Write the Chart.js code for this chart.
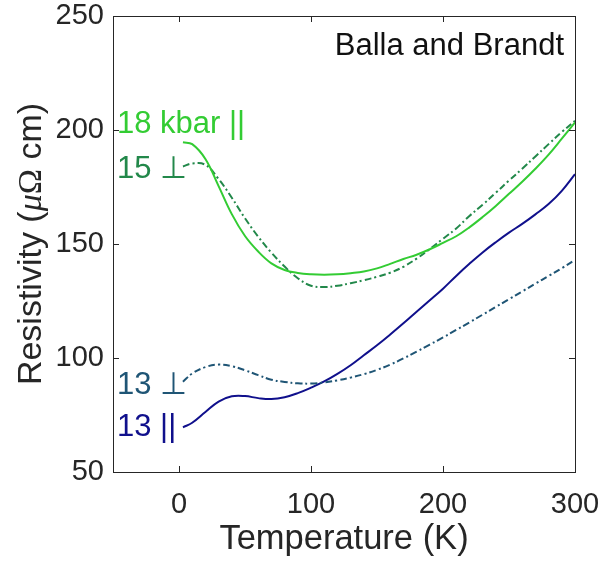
<!DOCTYPE html>
<html>
<head>
<meta charset="utf-8">
<script src="https://cdn.jsdelivr.net/npm/chart.js@4.4.1/dist/chart.umd.min.js"></script>
<style>
  html, body { margin: 0; padding: 0; background: #fff; }
  #wrap { width: 603px; height: 563px; }
</style>
</head>
<body>
<div id="wrap"><canvas id="rhoChart" width="603" height="563"></canvas></div>
<script>
// Suhu (K) - sama untuk semua kurva
const temps = [3, 10, 20, 30, 40, 50, 60, 70, 80, 90, 100, 110, 120, 130, 140, 150,
  160, 170, 180, 190, 200, 210, 220, 230, 240, 250, 260, 270, 280, 290, 300];

// Resistivitas (uOhm cm)
const rho18par = [194.6, 193.8, 187.3, 175.4, 163.1, 153.5, 146.7, 141.5, 138.6, 137.3, 136.7,
  136.5, 136.7, 137.2, 137.9, 139.3, 141.3, 143.4, 145.3, 147.7, 150.5, 153.4, 157.3, 161.8,
  166.7, 172.0, 177.3, 183.0, 189.2, 196.2, 203.3];
const rho15perp = [184.0, 185.3, 184.7, 178.5, 170.3, 161.3, 153.2, 146.2, 140.1, 135.0, 131.7,
  131.1, 131.7, 132.8, 134.1, 135.6, 137.4, 140.0, 143.6, 147.8, 152.3, 156.8, 162.3, 167.2,
  172.5, 177.8, 183.0, 188.4, 193.8, 199.1, 204.0];
const rho13par = [69.6, 71.6, 76.3, 80.9, 83.2, 83.3, 82.4, 82.0, 82.8, 84.6, 87.0, 89.7, 93.0,
  96.8, 101.2, 105.6, 110.3, 115.2, 120.3, 125.3, 130.4, 136.0, 141.3, 146.3, 150.8, 155.0,
  158.8, 163.0, 167.5, 173.3, 180.6];
const rho13perp = [89.6, 93.2, 96.0, 97.1, 96.4, 94.6, 92.5, 90.5, 89.5, 88.9, 88.8, 89.3, 90.2,
  91.4, 92.9, 94.8, 97.1, 99.8, 102.8, 105.9, 109.0, 112.3, 115.6, 119.0, 122.4, 125.8, 129.2,
  132.6, 136.0, 139.4, 143.0];

// Tick sumbu
const xTicks = [0, 100, 200, 300];
const yTicks = [50, 100, 150, 200, 250];

const AXIS_COLOR = '#262626';
const FONT = '"Liberation Sans", Arial, Helvetica, sans-serif';

function toPoints(ys) {
  return temps.map((t, i) => ({ x: t, y: ys[i] }));
}

function lineSet(label, ys, color, dashed) {
  return {
    label,
    data: toPoints(ys),
    borderColor: color,
    borderWidth: 2,
    borderDash: dashed ? [7, 3, 2, 3] : [],
    pointRadius: 0,
    fill: false,
    tension: 0.4
  };
}

// Bingkai + tick ke dalam, judul sumbu, dan label kurva
const frameAndText = {
  id: 'frameAndText',
  afterDraw(chart) {
    const { ctx, chartArea: a, scales } = chart;
    const tl = 6;
    ctx.save();
    ctx.strokeStyle = AXIS_COLOR;
    ctx.lineWidth = 1;
    ctx.strokeRect(Math.round(a.left) + 0.5, Math.round(a.top) + 0.5,
      Math.round(a.right - a.left), Math.round(a.bottom - a.top));
    ctx.beginPath();
    xTicks.forEach(v => {
      const px = Math.round(scales.x.getPixelForValue(v)) + 0.5;
      ctx.moveTo(px, a.bottom); ctx.lineTo(px, a.bottom - tl);
      ctx.moveTo(px, a.top); ctx.lineTo(px, a.top + tl);
    });
    yTicks.forEach(v => {
      const py = Math.round(scales.y.getPixelForValue(v)) + 0.5;
      ctx.moveTo(a.left, py); ctx.lineTo(a.left + tl, py);
      ctx.moveTo(a.right, py); ctx.lineTo(a.right - tl, py);
    });
    ctx.stroke();

    // judul sumbu x
    ctx.fillStyle = AXIS_COLOR;
    ctx.textAlign = 'center';
    ctx.textBaseline = 'alphabetic';
    ctx.font = '34.5px ' + FONT;
    ctx.fillText('Temperature (K)', (a.left + a.right) / 2, 549);

    // judul sumbu y, mu miring
    const parts = [
      ['Resistivity (', '34px ' + FONT],
      ['\u03bc', 'italic 34px "Liberation Serif", "DejaVu Serif", serif'],
      ['\u03a9', '34px "Liberation Serif", "DejaVu Serif", serif'],
      [' cm)', '34px ' + FONT]
    ];
    let total = 0;
    parts.forEach(p => { ctx.font = p[1]; total += ctx.measureText(p[0]).width; });
    ctx.save();
    ctx.translate(41, (a.top + a.bottom) / 2);
    ctx.rotate(-Math.PI / 2);
    ctx.textAlign = 'left';
    let cx = -total / 2;
    parts.forEach(p => {
      ctx.font = p[1];
      ctx.fillText(p[0], cx, 0);
      cx += ctx.measureText(p[0]).width;
    });
    ctx.restore();

    // label kurva
    ctx.textAlign = 'left';
    ctx.font = '31px ' + FONT;
    ctx.fillStyle = '#33cc33';
    ctx.fillText('18 kbar ||', 117, 133);
    ctx.fillStyle = '#22884a';
    ctx.fillText('15 \u22a5', 117, 178);
    ctx.fillStyle = '#1f5575';
    ctx.fillText('13 \u22a5', 117, 394);
    ctx.fillStyle = '#10108c';
    ctx.fillText('13 ||', 117, 436);
    ctx.fillStyle = '#111111';
    ctx.textAlign = 'right';
    ctx.fillText('Balla and Brandt', 564, 55);
    ctx.restore();
  }
};

const ctx = document.getElementById('rhoChart').getContext('2d');
window.rhoChart = new Chart(ctx, {
  type: 'line',
  data: {
    datasets: [
      lineSet('18 kbar ||', rho18par, '#33cc33', false),
      lineSet('15 perp', rho15perp, '#22884a', true),
      lineSet('13 perp', rho13perp, '#1f5575', true),
      lineSet('13 ||', rho13par, '#10108c', false)
    ]
  },
  options: {
    responsive: false,
    animation: false,
    devicePixelRatio: 1,
    layout: { padding: { top: 16, right: 28, left: 0, bottom: 0 } },
    plugins: { legend: { display: false }, tooltip: { enabled: false } },
    scales: {
      x: {
        type: 'linear', min: -50, max: 300,
        grid: { display: false, drawTicks: false },
        border: { display: false },
        afterBuildTicks: s => { s.ticks = xTicks.map(v => ({ value: v })); },
        afterFit: s => { s.height = 91; s.paddingLeft = 0; s.paddingRight = 0; },
        ticks: { color: AXIS_COLOR, font: { size: 29, family: FONT }, padding: 16, maxRotation: 0 }
      },
      y: {
        type: 'linear', min: 50, max: 250,
        grid: { display: false, drawTicks: false },
        border: { display: false },
        afterBuildTicks: s => { s.ticks = yTicks.map(v => ({ value: v })); },
        afterFit: s => { s.width = 113; s.paddingTop = 0; s.paddingBottom = 0; },
        ticks: { color: AXIS_COLOR, font: { size: 29, family: FONT }, padding: 9 }
      }
    }
  },
  plugins: [frameAndText]
});
</script>
</body>
</html>
